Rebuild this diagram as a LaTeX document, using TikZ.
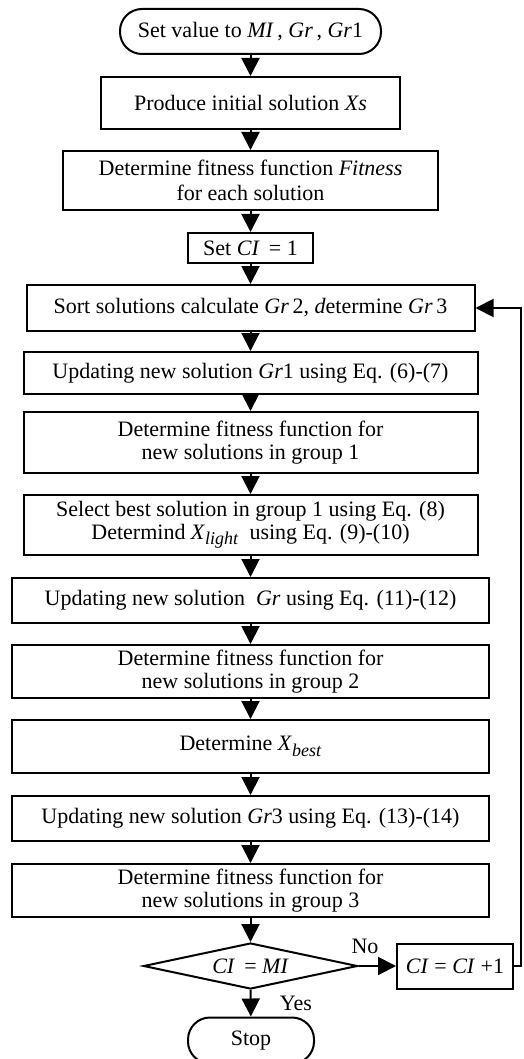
\documentclass[tikz,border=0pt]{standalone}
\usepackage{fontspec}
\setmainfont{Liberation Serif}
\usetikzlibrary{arrows.meta,shapes.geometric}

\newcommand{\low}[1]{\raisebox{-0.55ex}{\small\textit{#1}}}

\begin{document}
\begin{tikzpicture}[x=0.5pt, y=-0.5pt, >={Triangle[length=9pt,width=9pt]}, line width=1pt,
  font=\fontsize{11}{11.5}\selectfont,
  box/.style={draw, rectangle, align=center, inner sep=0pt},
  term/.style={box, rounded corners=11pt}]
\useasboundingbox (0,0) rectangle (524,1059);

\node[term, minimum width=130.5pt, minimum height=22.5pt] (init) at (250.5,31.5) {Set value to \textit{MI}\,, \textit{Gr}\,, \textit{Gr}1};
\node[box, minimum width=149.5pt, minimum height=26pt] (produce) at (250.5,103) {Produce initial solution \textit{Xs}};
\node[box, minimum width=187.5pt, minimum height=29.5pt, font=\fontsize{11}{12.5}\selectfont] (fitness) at (250.5,180.5) {Determine fitness function \textit{Fitness}\\for each solution};
\node[box, minimum width=62.5pt, minimum height=15pt] (setci) at (250.5,248) {Set \textit{CI} \,= 1};
\node[box, minimum width=224pt, minimum height=23pt] (sort) at (250.5,308) {Sort solutions calculate \textit{Gr}\,2, \textit{d}etermine \textit{Gr}\,3};
\node[box, minimum width=227pt, minimum height=21pt] (upd1) at (250.5,373) {Updating new solution \textit{Gr}1 using Eq. (6)-(7)};
\node[box, minimum width=227pt, minimum height=30.5pt] (fit1) at (250.5,442.5) {Determine fitness function for\\new solutions in group 1};
\node[box, minimum width=227pt, minimum height=30pt] (select) at (250.5,525) {Select best solution in group 1 using Eq. (8)\\Determind \textit{X}\low{light}~~using Eq. (9)-(10)};
\node[box, minimum width=238.5pt, minimum height=22.5pt] (upd) at (250.5,600.5) {Updating new solution~~\textit{Gr} using Eq. (11)-(12)};
\node[box, minimum width=238.5pt, minimum height=26.5pt] (fit2) at (250.5,671.5) {Determine fitness function for\\new solutions in group 2};
\node[box, minimum width=238.5pt, minimum height=26.5pt] (best) at (250.5,746.5) {Determine \textit{X}\low{best}};
\node[box, minimum width=238.5pt, minimum height=22.5pt] (upd3) at (250.5,818.5) {Updating new solution \textit{Gr}3 using Eq. (13)-(14)};
\node[box, minimum width=238.5pt, minimum height=26.5pt] (fit3) at (250.5,890.5) {Determine fitness function for\\new solutions in group 3};
\node[draw, diamond, aspect=4.6, inner sep=0pt, minimum width=107pt, minimum height=23pt] (check) at (250.5,966) {\textit{CI} \,= \textit{MI}};
\node[box, minimum width=58pt, minimum height=22.5pt] (incr) at (455,966) {\textit{CI} = \textit{CI} +1};
\node[term, minimum width=63pt, minimum height=23pt] (stop) at (251,1040.5) {Stop};
\node (no) at (365,946) {No};
\node (yes) at (296,1003) {Yes};
\coordinate (ret) at (521,966);

\draw[->] (init) -- (produce);
\draw[->] (produce) -- (fitness);
\draw[->] (fitness) -- (setci);
\draw[->] (setci) -- (sort);
\draw[->] (sort) -- (upd1);
\draw[->] (upd1) -- (fit1);
\draw[->] (fit1) -- (select);
\draw[->] (select) -- (upd);
\draw[->] (upd) -- (fit2);
\draw[->] (fit2) -- (best);
\draw[->] (best) -- (upd3);
\draw[->] (upd3) -- (fit3);
\draw[->] (fit3) -- (check);
\draw[->] (check) -- (incr);
\draw[->] (check) -- (stop);
\draw[->] (incr) -- (ret) |- (sort);
\end{tikzpicture}
\end{document}
